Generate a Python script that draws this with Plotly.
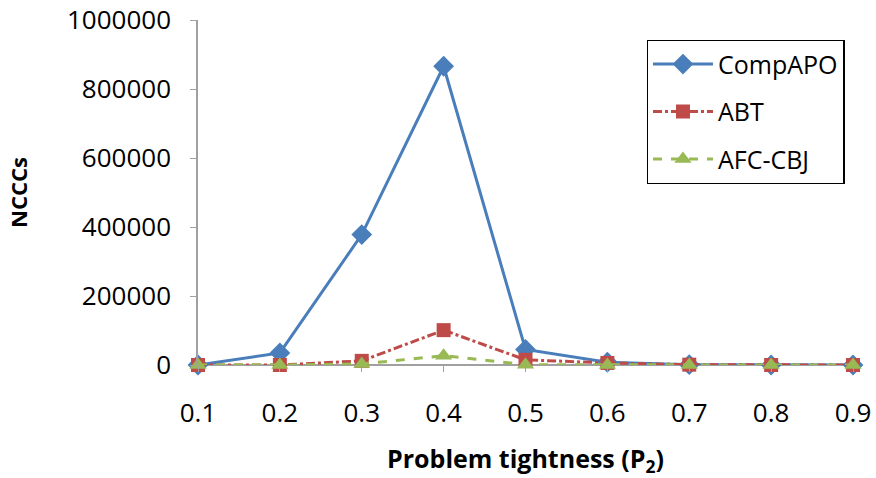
import plotly.graph_objects as go

x_vals = [0.1, 0.2, 0.3, 0.4, 0.5, 0.6, 0.7, 0.8, 0.9]
x_labels = ["0.1", "0.2", "0.3", "0.4", "0.5", "0.6", "0.7", "0.8", "0.9"]
comp_apo = [0, 35000, 378000, 866000, 45000, 8000, 1000, 0, 0]
abt = [0, 0, 12000, 101000, 15000, 6000, 1000, 0, 0]
afc_cbj = [0, 0, 3000, 27000, 1000, 0, 0, 0, 0]
y_ticks = [0, 200000, 400000, 600000, 800000, 1000000]

font_family = "Open Sans, Liberation Sans, sans-serif"

fig = go.Figure()
fig.add_trace(go.Scatter(
    x=x_vals, y=comp_apo, name="CompAPO", mode="lines+markers", legendgroup="a",
    line=dict(color="#4A7EBB", width=3),
    marker=dict(symbol="diamond", size=16, color="#4A7EBB"),
    cliponaxis=False))
fig.add_trace(go.Scatter(
    x=x_vals, y=abt, name="ABT", mode="lines+markers", legendgroup="b",
    line=dict(color="#BE4B48", width=3, dash="dashdot"),
    marker=dict(symbol="square", size=14, color="#BE4B48"),
    cliponaxis=False))
fig.add_trace(go.Scatter(
    x=x_vals, y=afc_cbj, name="AFC-CBJ", mode="lines+markers", legendgroup="c",
    line=dict(color="#98B954", width=3, dash="dash"),
    marker=dict(symbol="triangle-up", size=15, color="#98B954"),
    cliponaxis=False))

fig.update_layout(
    width=876, height=478,
    margin=dict(l=198, r=23, t=20, b=113, autoexpand=False),
    paper_bgcolor="white", plot_bgcolor="white",
    font=dict(family=font_family, size=26, color="#000000"),
    showlegend=True,
    legend=dict(
        x=0.685, y=0.942, xanchor="left", yanchor="top",
        bordercolor="#000000", borderwidth=1.3, bgcolor="white",
        font=dict(size=25), tracegroupgap=12, traceorder="grouped",
        itemwidth=60,
    ),
    xaxis=dict(
        range=[0.1, 0.9], tickvals=x_vals, ticktext=x_labels,
        showgrid=False, zeroline=False, automargin=False,
        showline=False, ticks="outside", ticklen=6, tickcolor="#A0A0A0",
        ticklabelstandoff=19,
        title=dict(text="<b>Problem tightness (P<sub>2</sub>)</b>", font=dict(size=25), standoff=25),
    ),
    yaxis=dict(
        range=[0, 1000000], tickvals=y_ticks, automargin=False,
        tickformat="d", showgrid=False, zeroline=True, zerolinecolor="#A0A0A0", zerolinewidth=1.5,
        showline=True, linecolor="#A0A0A0", linewidth=1.5,
        ticks="outside", ticklen=6, tickcolor="#A0A0A0",
        ticklabelstandoff=14,
        title=dict(text="<b>NCCCs</b>", font=dict(size=22), standoff=33),
    ),
)

fig.write_html("out.html")
